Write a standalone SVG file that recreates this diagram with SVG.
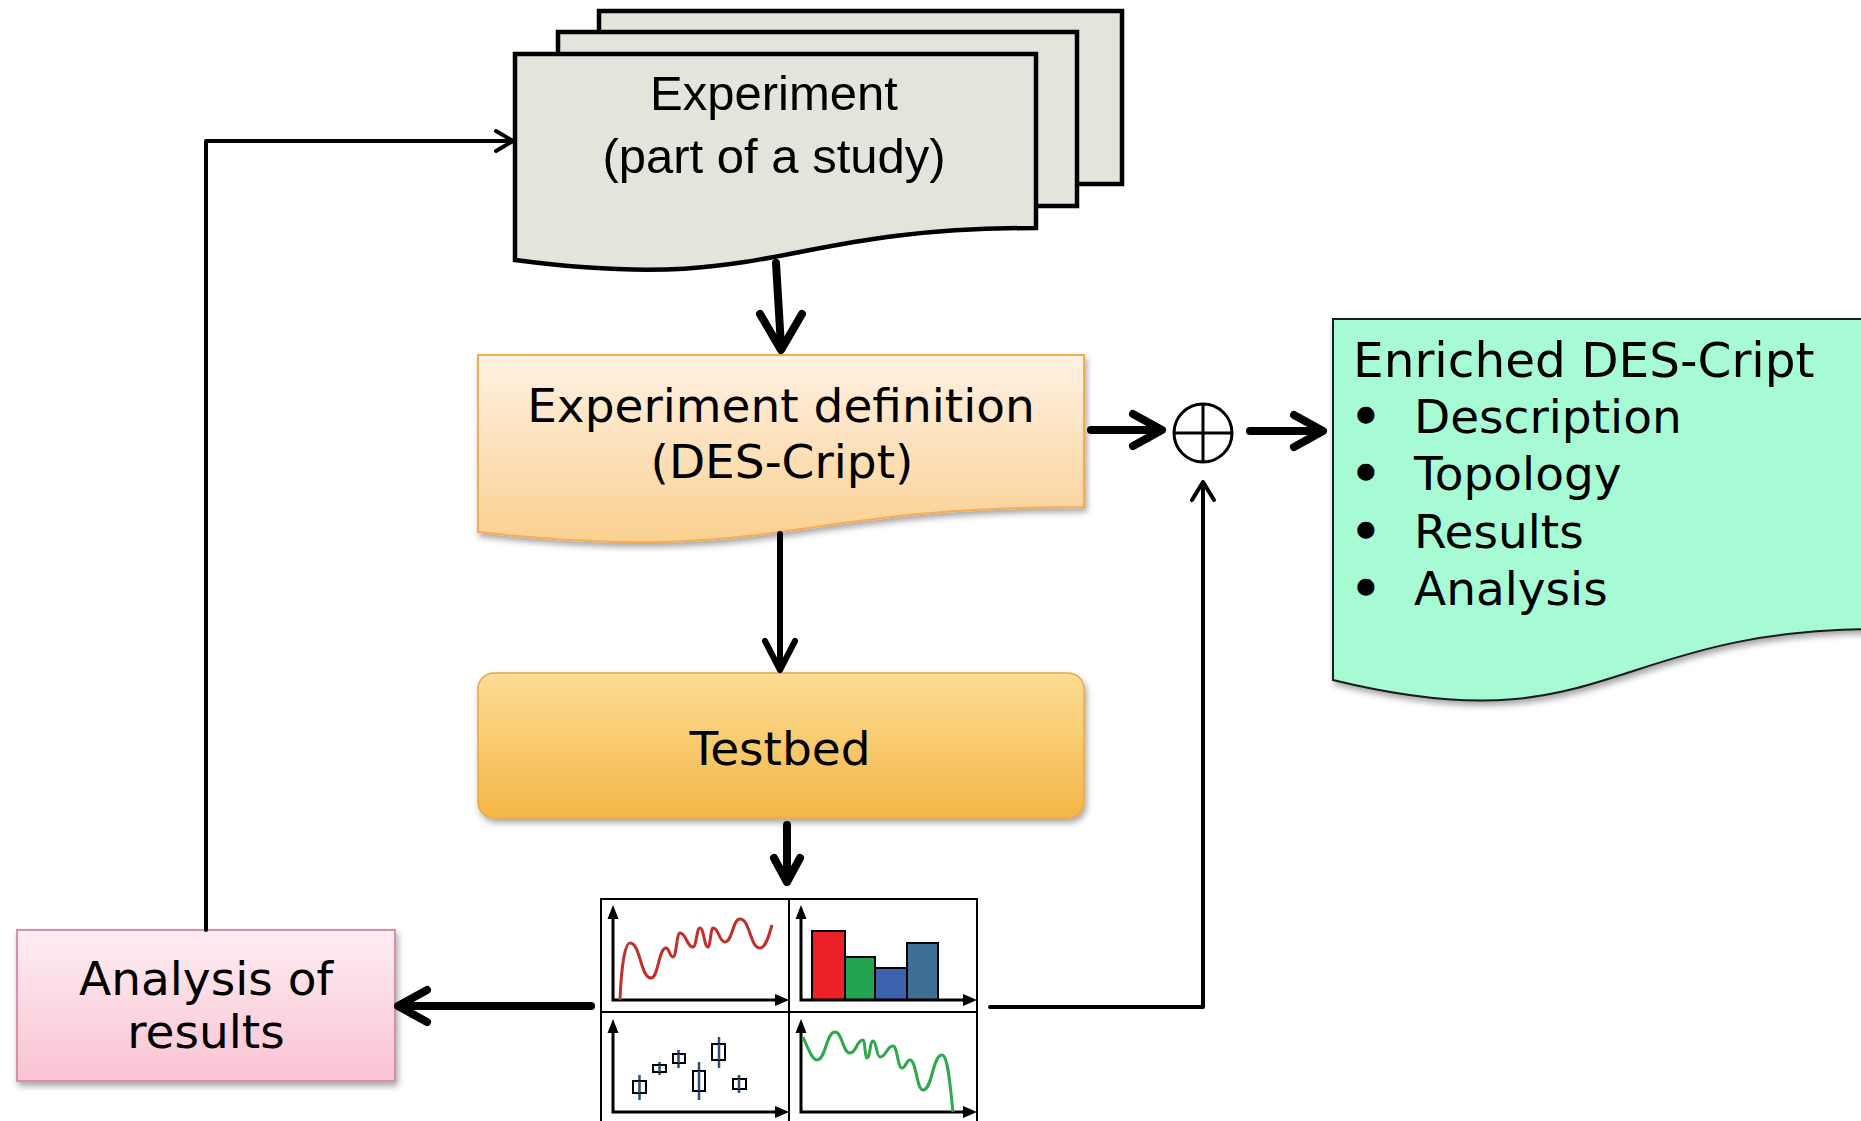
<svg xmlns="http://www.w3.org/2000/svg" width="1861" height="1121" viewBox="0 0 1861 1121">
<defs>
<linearGradient id="gDef" x1="0" y1="0" x2="0" y2="1"><stop offset="0" stop-color="#FFF1E3"/><stop offset="1" stop-color="#FBD091"/></linearGradient>
<linearGradient id="gTest" x1="0" y1="0" x2="0" y2="1"><stop offset="0" stop-color="#FCDD95"/><stop offset="1" stop-color="#F4B646"/></linearGradient>
<linearGradient id="gAna" x1="0" y1="0" x2="0" y2="1"><stop offset="0" stop-color="#FEEDF2"/><stop offset="1" stop-color="#FAC3D3"/></linearGradient>
<filter id="sh" x="-10%" y="-10%" width="125%" height="140%"><feDropShadow dx="2" dy="4" stdDeviation="3" flood-color="#000" flood-opacity="0.35"/></filter>
</defs>
<style>
.lbl{font-family:"DejaVu Sans",Verdana,sans-serif;font-size:47px;fill:#000}
.ttl{font-family:"DejaVu Sans",Verdana,sans-serif;font-size:48.5px;fill:#000}
.bul{stroke:#000;stroke-width:3.5;stroke-linejoin:round}
.cal{font-family:"Liberation Sans",Arial,sans-serif;font-size:49px;fill:#000}
.sheet{fill:#E2E5DB;stroke:#000;stroke-width:4.5;stroke-linejoin:miter}
.heavy{fill:none;stroke:#000;stroke-width:8;stroke-linecap:round;stroke-linejoin:round}
.mid{fill:none;stroke:#000;stroke-width:6;stroke-linecap:round;stroke-linejoin:round}
.thin{fill:none;stroke:#000;stroke-width:4;stroke-linecap:round;stroke-linejoin:round}
.ax{fill:none;stroke:#000;stroke-width:3}
.tri{fill:#000}
.grid{fill:#fff;stroke:#000;stroke-width:2}
.bx{fill:#fff;stroke:#000;stroke-width:2}
.wh{stroke:#2F4B80;stroke-width:2.5}
.bar{stroke:#000;stroke-width:2}
</style>

<g id="experiment">
<rect class="sheet" x="599" y="11" width="523" height="173"/>
<rect class="sheet" x="558" y="32" width="519" height="174"/>
<path class="sheet" d="M515,54 H1036 V228 C775,228 775,294 515,260 Z"/>
<text class="cal" x="774" y="110" text-anchor="middle">Experiment</text>
<text class="cal" x="774" y="173" text-anchor="middle">(part of a study)</text>
</g>

<g id="experiment-definition">
<path d="M478,355 H1084 V507 C781,507 781,565 478,532 Z" fill="url(#gDef)" stroke="#F5AC55" stroke-width="2" filter="url(#sh)"/>
<text class="lbl" x="781" y="422" text-anchor="middle">Experiment definition</text>
<text class="lbl" x="782" y="478" text-anchor="middle">(DES-Cript)</text>
</g>

<g id="testbed">
<rect x="478" y="673" width="606" height="145" rx="16" fill="url(#gTest)" stroke="#E9A940" stroke-width="1.5" filter="url(#sh)"/>
<text class="lbl" x="780" y="765" text-anchor="middle">Testbed</text>
</g>

<g id="analysis">
<rect x="17" y="930" width="378" height="151" fill="url(#gAna)" stroke="#D890A4" stroke-width="2" filter="url(#sh)"/>
<text class="lbl" x="206" y="995" text-anchor="middle">Analysis of</text>
<text class="lbl" x="206" y="1048" text-anchor="middle">results</text>
</g>

<g id="combine">
<circle cx="1203" cy="433" r="29" fill="#fff" stroke="#000" stroke-width="3"/>
<path d="M1203,405 V461 M1175,433 H1231" stroke="#000" stroke-width="3"/>
</g>

<g id="enriched">
<path d="M1333,319 H1880 V629 C1606,629 1606,747 1333,680 Z" fill="#A6FAD4" stroke="#1A1A1A" stroke-width="2" filter="url(#sh)"/>
<text class="ttl" x="1353" y="377">Enriched DES-Cript</text>
<text class="lbl" y="433"><tspan class="bul" x="1352">•</tspan><tspan x="1414">Description</tspan></text>
<text class="lbl" y="490"><tspan class="bul" x="1352">•</tspan><tspan x="1414">Topology</tspan></text>
<text class="lbl" y="548"><tspan class="bul" x="1352">•</tspan><tspan x="1414">Results</tspan></text>
<text class="lbl" y="605"><tspan class="bul" x="1352">•</tspan><tspan x="1414">Analysis</tspan></text>
</g>

<g id="results-charts">
<rect class="grid" x="601" y="899" width="376" height="240"/>
<path class="grid" d="M789,899 V1121 M601,1012 H977" fill="none"/>
<path class="ax" d="M613,915 V1000 H778"/>
<polygon class="tri" points="613,905 607.5,919 618.5,919"/>
<polygon class="tri" points="789,1000 775,994 775,1006"/>
<path d="M620,1000 C621,975 624,943 630,943 C640.5,943 640.5,978 651,978 C658.5,978 658.5,948 666,948 C669.5,948 669.5,957 673,957 C676.5,957 676.5,933 680,933 C686.5,933 686.5,947 693,947 C696.5,947 696.5,928 700,928 C704,928 704,947 708,947 C710.5,947 710.5,928 713,928 C719,928 719,942 725,942 C732.5,942 732.5,919 740,919 C750,919 750,948 760,948 C766,948 769,935 772,925" fill="none" stroke="#C0302B" stroke-width="3"/>
<rect class="bar" x="812" y="931" width="33" height="69" fill="#EC2027"/>
<rect class="bar" x="845" y="957" width="30" height="43" fill="#22A450"/>
<rect class="bar" x="875" y="968" width="32" height="32" fill="#3D62AE"/>
<rect class="bar" x="907" y="943" width="31" height="57" fill="#3F6E96"/>
<path class="ax" d="M801,915 V1000 H966"/>
<polygon class="tri" points="801,905 795.5,919 806.5,919"/>
<polygon class="tri" points="977,1000 963,994 963,1006"/>
<path class="ax" d="M613,1029 V1112 H778"/>
<polygon class="tri" points="613,1019 607.5,1033 618.5,1033"/>
<polygon class="tri" points="789,1112 775,1106 775,1118"/>
<path class="wh" d="M639.5,1075 V1100 M659.5,1062 V1075 M678.5,1050 V1068 M699,1062 V1100 M719,1037 V1068 M739,1075 V1093"/>
<rect class="bx" x="633" y="1081" width="13" height="12"/>
<rect class="bx" x="653" y="1065" width="13" height="7"/>
<rect class="bx" x="673" y="1054" width="12" height="9"/>
<rect class="bx" x="693" y="1071" width="12" height="20"/>
<rect class="bx" x="712" y="1044" width="13" height="16"/>
<rect class="bx" x="733" y="1079" width="13" height="10"/>
<path class="wh" d="M639.5,1081 V1093 M659.5,1065 V1072 M678.5,1054 V1063 M699,1071 V1091 M719,1044 V1060 M739,1079 V1089"/>
<path class="ax" d="M801,1029 V1112 H966"/>
<polygon class="tri" points="801,1019 795.5,1033 806.5,1033"/>
<polygon class="tri" points="977,1112 963,1106 963,1118"/>
<path d="M803,1037 C808,1048 812,1060 817,1060 C826,1060 826,1032 835,1032 C842.5,1032 842.5,1053 850,1053 C856.5,1053 856.5,1040 863,1040 C865,1040 865,1058 867,1058 C870,1058 870,1041 873,1041 C876.5,1041 876.5,1057 880,1057 C886.5,1057 886.5,1046 893,1046 C897.5,1046 897.5,1068 902,1068 C906,1068 906,1060 910,1060 C916.5,1060 916.5,1090 923,1090 C932.5,1090 932.5,1055 942,1055 C948,1055 950,1085 953,1112" fill="none" stroke="#2EA84A" stroke-width="3"/>
</g>

<g id="connectors">
<path class="heavy" d="M776,263 L781,346"/>
<polyline class="heavy" points="760,314 781,350 802,314"/>
<path class="mid" d="M780,534 V668"/>
<polyline class="mid" points="765,641 780,670 795,641"/>
<path class="heavy" d="M787,825 V879"/>
<polyline class="heavy" points="774,858 787,882 800,858"/>
<path class="heavy" d="M591,1006 H401"/>
<polyline class="heavy" points="427,990 398,1006 427,1022"/>
<polyline class="thin" points="206,930 206,141 510,141"/>
<polyline class="thin" points="496,131 513,141 496,151"/>
<path class="heavy" d="M1091,430 H1158"/>
<polyline class="heavy" points="1133,414 1162,430 1133,446"/>
<path class="heavy" d="M1250,431 H1320"/>
<polyline class="heavy" points="1294,415 1323,431 1294,447"/>
<polyline class="thin" points="990,1007 1203,1007 1203,486"/>
<polyline class="thin" points="1192,500 1203,482 1214,500"/>
</g>
</svg>
